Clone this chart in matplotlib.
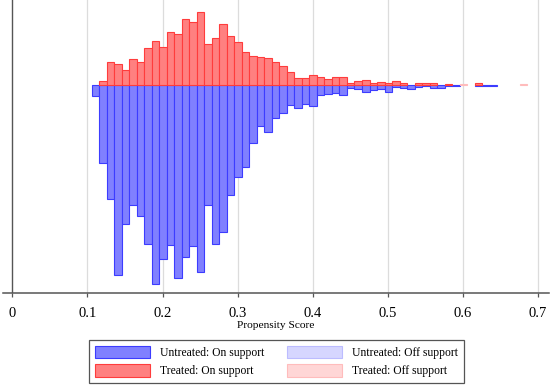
import numpy as np
import matplotlib
matplotlib.use('Agg')
import matplotlib.pyplot as plt
from matplotlib.patches import Patch

plt.rcParams['font.family'] = ['Liberation Serif', 'DejaVu Serif']

# lower edge of each propensity score bin (width 0.01)
bin_lo = [0.1055, 0.1155, 0.1255, 0.1355, 0.1455, 0.1555, 0.1655, 0.1755, 0.1855, 0.1955,
          0.2055, 0.2155, 0.2255, 0.2355, 0.2455, 0.2555, 0.2655, 0.2755, 0.2855, 0.2955,
          0.3055, 0.3155, 0.3255, 0.3355, 0.3455, 0.3555, 0.3655, 0.3755, 0.3855, 0.3955,
          0.4055, 0.4155, 0.4255, 0.4355, 0.4455, 0.4555, 0.4655, 0.4755, 0.4855, 0.4955,
          0.5055, 0.5155, 0.5255, 0.5355, 0.5455, 0.5555, 0.5655, 0.5755, 0.5855, 0.5955,
          0.6055, 0.6155, 0.6255, 0.6355, 0.6455, 0.6555, 0.6655, 0.6755]
bin_w = 0.01

# bar heights (arbitrary frequency units)
untreated_on = [10.7, 77.7, 114, 189.7, 138.3, 120, 130.7, 158.3, 199, 174,
                159.3, 192.3, 171.3, 160.3, 186.3, 120, 158.3, 147, 110, 91.7,
                82.3, 58.3, 40.7, 47, 33, 28, 20, 22.5, 18.5, 21,
                10, 9.3, 7.7, 10, 2.7, 4.3, 7.3, 5, 4, 6.7,
                2, 2.7, 4.3, 1.7, 1, 2.7, 2.7, 0.7, 0.7, 0,
                0, 0.7, 0.7, 0.7, 0, 0, 0, 0]
treated_on = [0, 4, 22.7, 20.7, 14.7, 26, 22.7, 36.7, 44, 38,
              52.7, 50.7, 66, 62.7, 73, 41.3, 47.3, 60.7, 49.3, 42.7,
              32.7, 28.7, 27.7, 26.7, 22.7, 19.3, 12.7, 7.5, 6.8, 9.8,
              7.7, 6, 8.3, 7.7, 2.3, 4, 5, 2.3, 3.3, 2.3,
              3.7, 1.7, 0, 1.7, 1.7, 1.7, 0, 1, 0, 0,
              0, 1.7, 0, 0, 0, 0, 0, 0]
untreated_off = [0] * 58
treated_off = [0] * 49 + [1] + [0] * 7 + [1]

ticks = [0, 0.1, 0.2, 0.3, 0.4, 0.5, 0.6, 0.7]

fig = plt.figure(figsize=(5.5, 3.88), dpi=100)
ax = fig.add_axes([3/550, 1 - 293.3/388, 546/550, 293.3/388])

x = np.array(bin_lo)

def draw(vals, sign, face, edge):
    v = np.array(vals, dtype=float)
    m = v > 0
    ax.bar(x[m], sign * v[m], width=bin_w, align='edge', color=face,
           edgecolor=edge, linewidth=0.8, zorder=3)

draw(untreated_on, -1, '#8080ff', '#3c3cff')
draw(treated_on, 1, '#ff8080', '#ff3c3c')
draw(untreated_off, -1, '#d6d6ff', '#bcbcff')
draw(treated_off, 1, '#ffd6d6', '#ffbcbc')

for t in ticks[1:]:
    ax.axvline(t, color='#dcdcdc', lw=0.9, zorder=1)
ax.axvline(0, color='#555555', lw=1.0, zorder=2)

ax.set_xlim(-0.0125, 0.7145)
ax.set_ylim(-208, 85)
ax.set_yticks([])
ax.set_xticks(ticks)
ax.set_xticklabels(['0', '0.1', '0.2', '0.3', '0.4', '0.5', '0.6', '0.7'], fontsize=10.5)
ax.tick_params(axis='x', direction='out', length=3, width=0.9, color='#555555', pad=7)
for loc in ['top', 'left', 'right']:
    ax.spines[loc].set_visible(False)
ax.spines['bottom'].set_color('#555555')
ax.spines['bottom'].set_linewidth(1.1)

ax.set_xlabel('Propensity Score', fontsize=8.2)
ax.xaxis.set_label_coords(0.5, -0.093)

handles = [Patch(facecolor='#8080ff', edgecolor='#3c3cff', lw=0.8, label='Untreated: On support'),
           Patch(facecolor='#ff8080', edgecolor='#ff3c3c', lw=0.8, label='Treated: On support'),
           Patch(facecolor='#d6d6ff', edgecolor='#bcbcff', lw=0.8, label='Untreated: Off support'),
           Patch(facecolor='#ffd6d6', edgecolor='#ffbcbc', lw=0.8, label='Treated: Off support')]
leg = fig.legend(handles=handles, ncol=2, loc='center', bbox_to_anchor=(276.5/550, 1 - 361.5/388),
                 fontsize=8.4, handlelength=4.7, handleheight=1.3, handletextpad=0.9,
                 columnspacing=1.9, labelspacing=0.45, borderpad=0.5, borderaxespad=0,
                 fancybox=False, framealpha=1, edgecolor='#555555')
leg.get_frame().set_linewidth(0.9)

fig.savefig('out.png', dpi=100)
